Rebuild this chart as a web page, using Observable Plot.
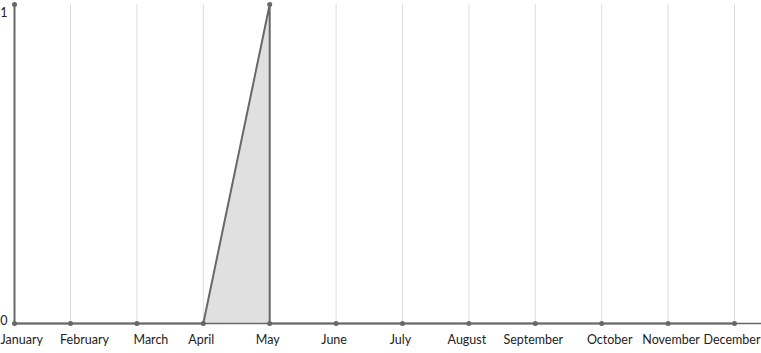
<!DOCTYPE html>
<html>
<head>
<meta charset="utf-8">
<script src="https://cdn.jsdelivr.net/npm/d3@7"></script>
<script src="https://cdn.jsdelivr.net/npm/@observablehq/plot@0.6"></script>
<style>
  html, body { margin: 0; padding: 0; background: #fff; }
  #chart svg { display: block; }
</style>
</head>
<body>
<div id="chart"></div>
<script>
const months = ["January","February","March","April","May","June","July","August","September","October","November","December"];
// line path as drawn (sequence of points)
const lineMonths = ["January","January","February","March","April","May","May","June","July","August","September","October","November","December"];
const lineValues = [1, 0, 0, 0, 0, 1, 0, 0, 0, 0, 0, 0, 0, 0];
// shaded area segment
const areaMonths = ["April","May"];
const areaValues = [0, 1];
const yTicks = [0, 1];

const idx = m => months.indexOf(m);
const lineData = lineMonths.map((m, i) => ({m: idx(m), value: lineValues[i]}));
const areaData = areaMonths.map((m, i) => ({m: idx(m), value: areaValues[i]}));
const monthIdx = months.map((m, i) => i);
const fmt = i => months[i];

const ink = "#686868";
const axisOpts = {tickSize: 0, tickPadding: 12, tickFormat: fmt, fill: "#222"};
const chart = Plot.plot({
  width: 761,
  height: 353,
  marginLeft: 14,
  marginRight: 27,
  marginTop: 4,
  marginBottom: 30,
  style: {fontFamily: "Lato, sans-serif", fontSize: "12.5px", color: "#222", background: "#fff"},
  // January sits at the y-axis; February..December evenly spaced
  x: {type: "linear", domain: [0, 1, 11], range: [14, 70, 734], label: null},
  y: {domain: [0, 1], label: null},
  marks: [
    Plot.gridX(monthIdx.slice(1), {stroke: "#dddddd", strokeOpacity: 1, strokeWidth: 1}),
    Plot.areaY(areaData, {x: "m", y: "value", fill: "#e0e0e0", fillOpacity: 1}),
    Plot.ruleY([0], {stroke: ink, strokeWidth: 1.5, insetRight: -27}),
    Plot.line(lineData, {x: "m", y: "value", stroke: ink, strokeWidth: 2, strokeLinejoin: "round"}),
    Plot.dot(lineData, {x: "m", y: "value", r: 2.5, fill: ink, stroke: "none"}),
    Plot.axisX(monthIdx.slice(0, 1), {...axisOpts, textAnchor: "start", dx: -14}),
    Plot.axisX(monthIdx.slice(1, 3), {...axisOpts, dx: 14}),
    Plot.axisX(monthIdx.slice(3, 9), {...axisOpts, dx: -2}),
    Plot.axisX(monthIdx.slice(9, 10), {...axisOpts, dx: 8}),
    Plot.axisX(monthIdx.slice(10, 11), {...axisOpts, dx: 3}),
    Plot.axisX(monthIdx.slice(11), {...axisOpts, textAnchor: "end", dx: 26}),
    Plot.axisY([yTicks[1]], {tickSize: 0, tickPadding: 7, dy: 8, tickFormat: "d", fill: "#222"}),
    Plot.axisY([yTicks[0]], {tickSize: 0, tickPadding: 7, dy: -3, tickFormat: "d", fill: "#222"})
  ]
});
document.getElementById("chart").appendChild(chart);
</script>
</body>
</html>
